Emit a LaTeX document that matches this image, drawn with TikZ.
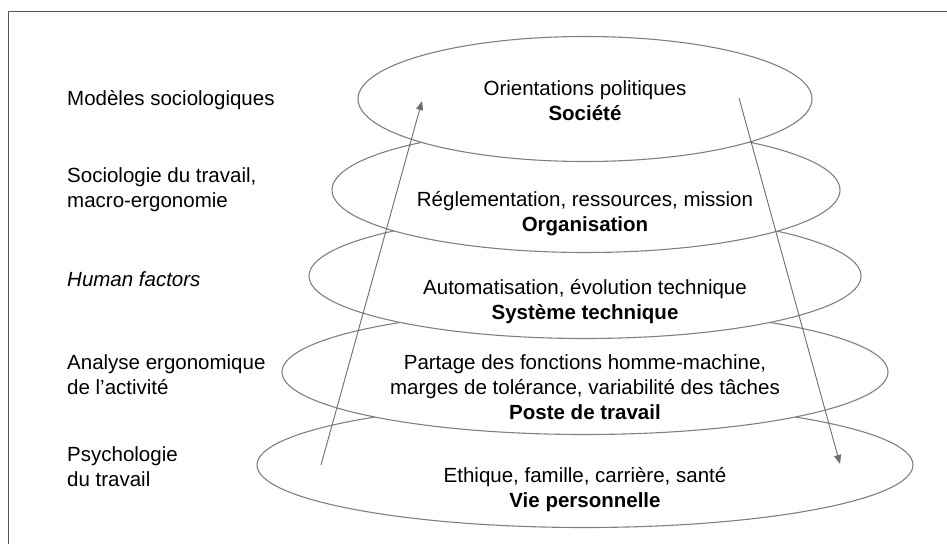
\documentclass[tikz,border=0pt]{standalone}
\usepackage{fontspec}
\setmainfont{Liberation Sans}
\usetikzlibrary{positioning,shapes,arrows.meta}
\definecolor{ringgray}{HTML}{808080}
\definecolor{framegray}{HTML}{555555}
\tikzstyle{layer}=[ellipse, draw=ringgray, fill=white, line width=1.1pt, minimum height=125pt, inner sep=0pt]
\tikzstyle{lbox}=[anchor=west, align=left, inner sep=0pt, text=black]
\tikzstyle{cbox}=[align=center, inner sep=0pt, text=black]
\tikzstyle{line}=[-{Triangle[length=9pt,width=7pt]}, ringgray!85!black, line width=0.9pt]

\begin{document}
\begin{tikzpicture}[x=1pt, y=-1pt, font=\fontsize{20.5}{25}\selectfont]

    \useasboundingbox (0,0) rectangle (947,544);
    \draw[framegray, line width=1pt] (8,544) -- (8,11) -- (947,11);

% the five layers, lowest first so each one hides the top of the next
    \node (vie) [layer, minimum width=656pt] at (585,465) {};
    \node (poste) [layer, minimum width=606pt] at (585,372) {};
    \node (tech) [layer, minimum width=552pt] at (585,276) {};
    \node (org) [layer, minimum width=508pt] at (586,190) {};
    \node (soc) [layer, minimum width=454pt] at (585,99) {};

% texts inside the layers
    \node (soct) [cbox] at (585,101) {Orientations politiques\\ \textbf{Société}};
    \node (orgt) [cbox] at (585,214) {Réglementation, ressources, mission\\ \textbf{Organisation}};
    \node (techt) [cbox] at (585,302) {Automatisation, évolution technique\\ \textbf{Système technique}};
    \node (postet) [cbox] at (585,387) {Partage des fonctions homme-machine,\\ marges de tolérance, variabilité des tâches\\ \textbf{Poste de travail}};
    \node (viet) [cbox] at (585,490) {Ethique, famille, carrière, santé\\ \textbf{Vie personnelle}};

% disciplines
    \node (modeles) [lbox] at (67,100) {Modèles sociologiques};
    \node (socio) [lbox] at (67,190) {Sociologie du travail,\\ macro-ergonomie};
    \node (human) [lbox] at (67,279) {\textit{Human factors}};
    \node (analyse) [lbox] at (67,375) {Analyse ergonomique\\ de l’activité};
    \node (psycho) [lbox] at (67,467) {Psychologie\\ du travail};

% arrows
    \coordinate (upfoot) at (321,465);
    \coordinate (uphead) at (422,101);
    \coordinate (downfoot) at (739,98);
    \coordinate (downhead) at (840,464);
    \draw[line] (upfoot) -- (uphead);
    \draw[line] (downfoot) -- (downhead);

\end{tikzpicture}
\end{document}
